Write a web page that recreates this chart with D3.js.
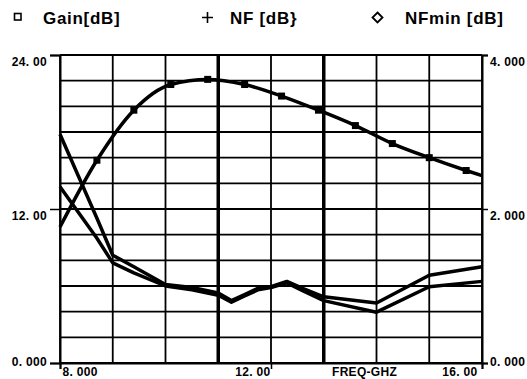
<!DOCTYPE html>
<html>
<head>
<meta charset="utf-8">
<script src="https://cdn.jsdelivr.net/npm/d3@7"></script>
<style>
  body { margin: 0; background: #fff; }
  text { font-family: "Liberation Sans", Arial, sans-serif; font-weight: bold; fill: #000; }
</style>
</head>
<body>
<script>
// gain trace (left axis, dB)
const gainFreq = [8.0, 8.7, 9.4, 10.1, 10.8, 11.5, 12.2, 12.9, 13.6, 14.3, 15.0, 15.7, 16.0];
const gainVals = [10.6, 15.8, 19.7, 21.7, 22.1, 21.7, 20.8, 19.7, 18.5, 17.1, 16.0, 15.0, 14.6];

// noise traces (right axis, dB)
const nfFreq = [8.0, 8.7, 9.0, 9.4, 10.0, 10.5, 11.0, 11.25, 11.5, 11.75, 12.0, 12.3, 12.6, 13.0, 14.0, 15.0, 16.0];
const nfVals = [2.97, 1.88, 1.40, 1.25, 1.02, 0.98, 0.91, 0.81, 0.89, 0.97, 0.99, 1.06, 0.97, 0.86, 0.78, 1.14, 1.25];
const nfminVals = [2.29, 1.62, 1.30, 1.17, 1.00, 0.95, 0.88, 0.79, 0.87, 0.95, 0.98, 1.04, 0.94, 0.81, 0.66, 0.99, 1.06];

const markerLines = [11, 13];
const xTicks = [8, 12, 16];
const leftTicks = [0, 12, 24];
const rightTicks = [0, 2, 4];

const W = 527, H = 379;
const pL = 60, pR = 482, pT = 55, pB = 363;

const svg = d3.select("body").append("svg").attr("width", W).attr("height", H);

const x = d3.scaleLinear().domain([8, 16]).range([pL, pR]);
const yL = d3.scaleLinear().domain([0, 24]).range([pB, pT]);
const yR = d3.scaleLinear().domain([0, 4]).range([pB, pT]);

// grid
const grid = svg.append("g");
grid.selectAll(".vg").data(d3.range(8, 16.001, 1)).enter().append("line")
    .attr("x1", d => x(d)).attr("x2", d => x(d))
    .attr("y1", pT).attr("y2", pB)
    .attr("stroke", "#000").attr("stroke-width", 1.8);
grid.selectAll(".hg").data(d3.range(0, 24.001, 2)).enter().append("line")
    .attr("x1", pL).attr("x2", pR)
    .attr("y1", d => yL(d)).attr("y2", d => yL(d))
    .attr("stroke", "#000").attr("stroke-width", 1.8);
grid.selectAll(".mk").data(markerLines).enter().append("line")
    .attr("x1", d => x(d)).attr("x2", d => x(d))
    .attr("y1", pT).attr("y2", pB)
    .attr("stroke", "#000").attr("stroke-width", 3.5);

function fmt(v) {
  let s = v === 0 ? "0.000" : v.toPrecision(4);
  return s.replace(".", ". ");
}

// axes
const axL = svg.append("g").attr("transform", `translate(${pL},0)`)
    .call(d3.axisLeft(yL).tickValues(leftTicks).tickSize(10).tickPadding(3).tickFormat(fmt));
const axR = svg.append("g").attr("transform", `translate(${pR},0)`)
    .call(d3.axisRight(yR).tickValues(rightTicks).tickSize(6).tickPadding(2).tickFormat(fmt));
const axB = svg.append("g").attr("transform", `translate(0,${pB})`)
    .call(d3.axisBottom(x).tickValues(xTicks).tickSize(6).tickPadding(0).tickFormat(fmt));

[axL, axR, axB].forEach(a => {
  a.select(".domain").attr("stroke", "#000").attr("stroke-width", 2);
  a.selectAll(".tick line").attr("stroke", "#000").attr("stroke-width", 1.5);
  a.selectAll("text").attr("font-size", 12).attr("letter-spacing", 0.3)
   .attr("font-family", "Liberation Sans, Arial, sans-serif").attr("font-weight", "bold");
});
axL.selectAll("text").attr("dy", d => d === 0 ? "0.2em" : "0.9em");
axR.selectAll("text").attr("dy", d => d === 0 ? "0.2em" : "0.9em");
axB.selectAll("text")
   .attr("dy", "0.6em")
   .attr("text-anchor", d => d === 8 ? "start" : "end")
   .attr("dx", d => d === 8 ? 2 : (d === 16 ? -5 : -1));

svg.append("text").attr("x", 332).attr("y", 376)
   .attr("font-size", 12).attr("letter-spacing", 0.3).text("FREQ-GHZ");

// traces
const lineGain = d3.line().x(d => x(d[0])).y(d => yL(d[1])).curve(d3.curveMonotoneX);
const lineNoise = d3.line().x(d => x(d[0])).y(d => yR(d[1]));

const gainData = gainFreq.map((f, i) => [f, gainVals[i]]);
const nfData = nfFreq.map((f, i) => [f, nfVals[i]]);
const nfminData = nfFreq.map((f, i) => [f, nfminVals[i]]);

svg.append("path").datum(nfminData).attr("d", lineNoise)
   .attr("fill", "none").attr("stroke", "#000").attr("stroke-width", 3.5).attr("stroke-linejoin", "round");
svg.append("path").datum(nfData).attr("d", lineNoise)
   .attr("fill", "none").attr("stroke", "#000").attr("stroke-width", 3.5).attr("stroke-linejoin", "round");
svg.append("path").datum(gainData).attr("d", lineGain)
   .attr("fill", "none").attr("stroke", "#000").attr("stroke-width", 3.5);

svg.selectAll(".gm").data(gainData.slice(1, -1)).enter().append("rect")
   .attr("x", d => x(d[0]) - 3.5).attr("y", d => yL(d[1]) - 3.5)
   .attr("width", 7).attr("height", 7).attr("fill", "#000");

// legend
const lg = svg.append("g");
lg.append("rect").attr("x", 14.5).attr("y", 13.5).attr("width", 6.5).attr("height", 6.5)
  .attr("fill", "none").attr("stroke", "#000").attr("stroke-width", 1.6);
lg.append("text").attr("x", 43).attr("y", 24).attr("font-size", 17).attr("letter-spacing", 0.7).text("Gain[dB]");
lg.append("path").attr("d", "M202,17.5H213M207.5,12V23").attr("stroke", "#000").attr("stroke-width", 1.6);
lg.append("text").attr("x", 230).attr("y", 24).attr("font-size", 17).attr("letter-spacing", 0.7).text("NF [dB}");
lg.append("path").attr("d", "M377.5,12.5L382.5,17.5L377.5,22.5L372.5,17.5Z")
  .attr("fill", "none").attr("stroke", "#000").attr("stroke-width", 1.8);
lg.append("text").attr("x", 405).attr("y", 24).attr("font-size", 17).attr("letter-spacing", 0.7).text("NFmin [dB]");
</script>
</body>
</html>
